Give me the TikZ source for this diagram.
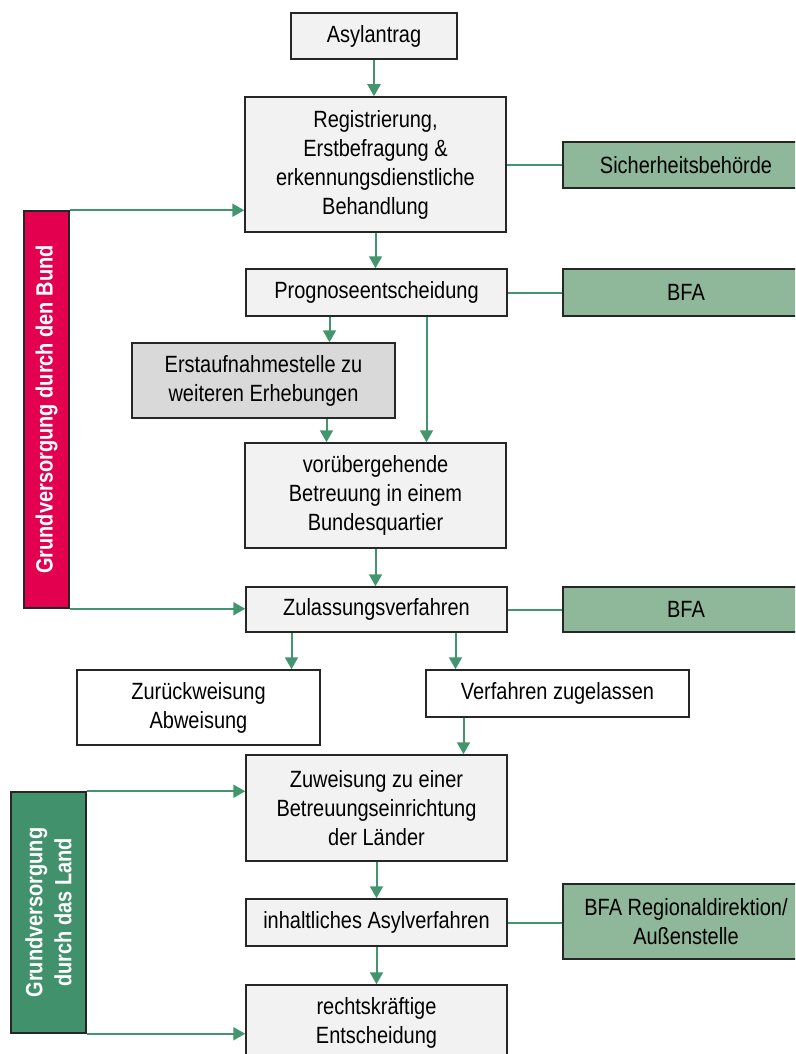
\documentclass[tikz,border=0pt]{standalone}
\usepackage{fontspec}
\setmainfont{Liberation Sans}[FakeStretch=0.85]
\usetikzlibrary{arrows.meta}
\definecolor{boxgray}{HTML}{F2F2F2}
\definecolor{darkgray}{HTML}{D9D9D9}
\definecolor{sage}{HTML}{8FB799}
\definecolor{flowgreen}{HTML}{42956D}
\definecolor{bundred}{HTML}{E3004F}
\definecolor{landgreen}{HTML}{40916C}

\begin{document}
\begin{tikzpicture}[x=1pt,y=-1pt,
    box/.style={draw=black!85, line width=1.5pt, fill=boxgray, align=center, inner sep=0pt,
      font=\fontsize{23.5}{29}\selectfont},
    side/.style={box, fill=sage, minimum width=246pt},
    bar/.style={draw=black!85, line width=1.5pt, inner sep=0pt},
    bartext/.style={rotate=90, text=white, align=center, font=\fontsize{23.5}{29}\selectfont\bfseries},
    flow/.style={draw=flowgreen, line width=2pt, -{Triangle[width=13pt,length=12pt]}},
    link/.style={draw=flowgreen, line width=2pt}]
  \useasboundingbox (0,0) rectangle (795,1054);
  \clip (0,0) rectangle (795,1054);
  % main column
  \node[box, minimum width=166pt, minimum height=46pt] (asyl) at (374,36) {Asylantrag};
  \node[box, minimum width=261pt, minimum height=135pt] (reg) at (375.5,164.5)
    {Registrierung,\\Erstbefragung \&\\erkennungsdienstliche\\Behandlung};
  \node[box, minimum width=261pt, minimum height=47pt] (prog) at (376.5,292.5) {Prognoseentscheidung};
  \node[box, fill=darkgray, minimum width=263pt, minimum height=75pt] (erst) at (263.5,380.5)
    {Erstaufnahmestelle zu\\weiteren Erhebungen};
  \node[box, minimum width=261pt, minimum height=105pt] (vor) at (375.5,495.5)
    {vorübergehende\\Betreuung in einem\\Bundesquartier};
  \node[box, minimum width=261pt, minimum height=45pt] (zul) at (376.5,609.5) {Zulassungsverfahren};
  \node[box, fill=white, minimum width=243pt, minimum height=75pt] (zur) at (198.5,707.5)
    {Zurückweisung\\Abweisung};
  \node[box, fill=white, minimum width=263pt, minimum height=47pt] (zug) at (557.5,693.5)
    {Verfahren zugelassen};
  \node[box, minimum width=261pt, minimum height=106pt] (zuw) at (376.5,808)
    {Zuweisung zu einer\\Betreuungseinrichtung\\der Länder};
  \node[box, minimum width=261pt, minimum height=47pt] (inh) at (376.5,922.5) {inhaltliches Asylverfahren};
  \node[box, minimum width=261pt, minimum height=75pt] (recht) at (376.5,1022.5)
    {rechtskräftige\\Entscheidung};
  % authorities
  \node[side, minimum height=46pt] (sich) at (686,165) {Sicherheitsbehörde};
  \node[side, minimum height=47pt] (bfaa) at (686,292.5) {BFA};
  \node[side, minimum height=45pt] (bfab) at (686,609.5) {BFA};
  \node[side, minimum height=75pt] (bfac) at (686,921.5) {BFA Regionaldirektion/\\Außenstelle};
  % care bars
  \node[bar, fill=bundred, minimum width=45pt, minimum height=397pt,
    label={[bartext]center:Grundversorgung durch den Bund}] (bund) at (46.5,409.5) {};
  \node[bar, fill=landgreen, minimum width=75pt, minimum height=241pt,
    label={[bartext]center:Grundversorgung\\durch das Land}] (land) at (48.5,912.5) {};
  % connectors
  \draw[flow] (asyl) -- (asyl |- reg.north);
  \draw[flow] (reg) -- (reg |- prog.north);
  \draw[flow] ([xshift=-47pt]prog.south) -- ([xshift=-47pt]prog.south |- erst.north);
  \draw[flow] ([xshift=50pt]prog.south) -- ([xshift=50pt]prog.south |- vor.north);
  \draw[flow] ([xshift=63pt]erst.south) -- ([xshift=63pt]erst.south |- vor.north);
  \draw[flow] (vor) -- (vor.south |- zul.north);
  \draw[flow] ([xshift=-85pt]zul.south) -- ([xshift=-85pt]zul.south |- zur.north);
  \draw[flow] ([xshift=79pt]zul.south) -- ([xshift=79pt]zul.south |- zug.north);
  \draw[flow] ([xshift=-94pt]zug.south) -- ([xshift=-94pt]zug.south |- zuw.north);
  \draw[flow] (zuw) -- (inh);
  \draw[flow] (inh) -- (recht);
  \draw[link] (reg.east |- sich) -- (sich);
  \draw[link] (prog) -- (bfaa);
  \draw[link] (zul) -- (bfab);
  \draw[link] (inh) -- (inh -| bfac.west);
  \draw[flow] (bund.north east) -- (bund.north east -| reg.west);
  \draw[flow] (bund.south east) -- (bund.south east -| zul.west);
  \draw[flow] (land.north east) -- (land.north east -| zuw.west);
  \draw[flow] (land.south east) -- (land.south east -| recht.west);
\end{tikzpicture}
\end{document}
